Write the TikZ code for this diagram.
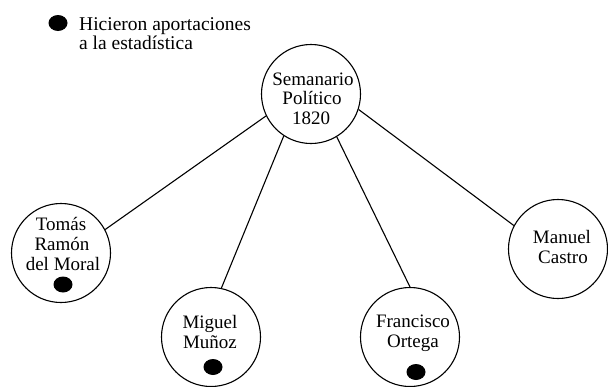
\documentclass[tikz,border=0pt]{standalone}
\usepackage{fontspec}
\setmainfont{Liberation Serif}
\usetikzlibrary{shapes.geometric}
\begin{document}
\begin{tikzpicture}[x=1pt,y=-1pt,
  person/.style={draw, circle, minimum size=99pt, inner sep=0pt, line width=1.1pt},
  txt/.style={anchor=base, inner sep=0pt, font=\fontsize{19}{20}\selectfont},
  legtxt/.style={anchor=base west, inner sep=0pt, font=\fontsize{19.5}{20}\selectfont},
  dotmark/.style={ellipse, fill=black, minimum width=19pt, minimum height=16pt, inner sep=0pt},
  link/.style={line width=1.1pt}]
\useasboundingbox (0,0) rectangle (608,386);
% legend
\node[dotmark] (legdot) at (58,23) {};
\node[legtxt] (leg1) at (79,30) {Hicieron aportaciones};
\node[legtxt] (leg2) at (79,49) {a la estadística};
% circles
\node[person] (sem) at (311,94) {};
\node[person] (tomas) at (61,253) {};
\node[person] (miguel) at (211,337) {};
\node[person] (francisco) at (410,337) {};
\node[person] (manuel) at (558,249) {};
% texts
\node[txt] (sem1) at (313,85) {Semanario};
\node[txt] (sem2) at (312,104.5) {Político};
\node[txt] (sem3) at (311,124) {1820};
\node[txt] (tomas1) at (61,230) {Tomás};
\node[txt] (tomas2) at (62,250) {Ramón};
\node[txt] (tomas3) at (63,270) {del Moral};
\node[dotmark] (tomasdot) at (63,284.5) {};
\node[txt] (miguel1) at (210,328) {Miguel};
\node[txt] (miguel2) at (210,348) {Muñoz};
\node[dotmark] (migueldot) at (213,367) {};
\node[txt] (francisco1) at (413,327) {Francisco};
\node[txt] (francisco2) at (413,347) {Ortega};
\node[dotmark] (franciscodot) at (416,372) {};
\node[txt] (manuel1) at (562,243) {Manuel};
\node[txt] (manuel2) at (563,263) {Castro};
% connectors
\draw[link] (sem.206) -- (tomas.28);
\draw[link] (sem.237) -- (miguel.78);
\draw[link] (sem.301) -- (francisco.90);
\draw[link] (sem.342) -- (manuel.152);
\end{tikzpicture}
\end{document}
